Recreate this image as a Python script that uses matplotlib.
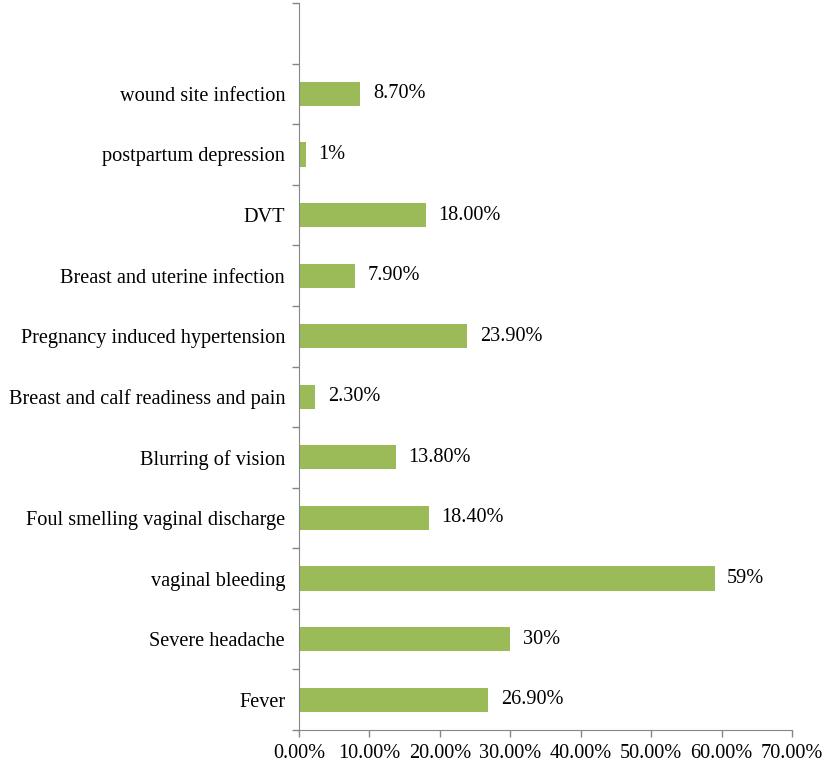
import matplotlib.pyplot as plt
from matplotlib.ticker import FixedLocator

# categories from bottom to top
categories = ['Fever', 'Severe headache', 'vaginal bleeding',
              'Foul smelling vaginal discharge', 'Blurring of vision',
              'Breast and calf readiness and pain',
              'Pregnancy induced hypertension', 'Breast and uterine infection',
              'DVT', 'postpartum depression', 'wound site infection']
values = [26.9, 30.0, 59.0, 18.4, 13.8, 2.3, 23.9, 7.9, 18.0, 1.0, 8.7]
value_labels = ['26.90%', '30%', '59%', '18.40%', '13.80%', '2.30%',
                '23.90%', '7.90%', '18.00%', '1%', '8.70%']
x_ticks = [0, 10, 20, 30, 40, 50, 60, 70]

plt.rcParams['font.family'] = ['Liberation Serif', 'DejaVu Serif']
fs = 14.6

fig = plt.figure(figsize=(8.24, 7.64), dpi=100)
ax = fig.add_axes([299 / 824, 34 / 764, 493 / 824, 727 / 764])

ypos = list(range(len(categories)))
ax.barh(ypos, values, height=0.4, color='#9bbb59')

for y, v, lab in zip(ypos, values, value_labels):
    ax.annotate(lab, (v, y), xytext=(9, 0), textcoords='offset points',
                va='center', ha='left', fontsize=fs)

# one empty slot at the top, like the original
ax.set_ylim(-0.5, len(categories) + 0.5)
ax.set_xlim(0, 70)

ax.set_yticks(ypos)
ax.set_yticklabels(categories, fontsize=fs)
ax.yaxis.set_minor_locator(FixedLocator([i - 0.5 for i in range(len(categories) + 2)]))
ax.tick_params(axis='y', which='major', length=0, pad=10)
ax.tick_params(axis='y', which='minor', length=5, color='#868686', width=1)

ax.set_xticks(x_ticks)
ax.set_xticklabels([f'{t:.2f}%' for t in x_ticks], fontsize=fs)
ax.tick_params(axis='x', length=5, color='#868686', width=1, pad=5)

for side in ['top', 'right']:
    ax.spines[side].set_visible(False)
for side in ['left', 'bottom']:
    ax.spines[side].set_color('#868686')

fig.savefig('out.png', dpi=100)
